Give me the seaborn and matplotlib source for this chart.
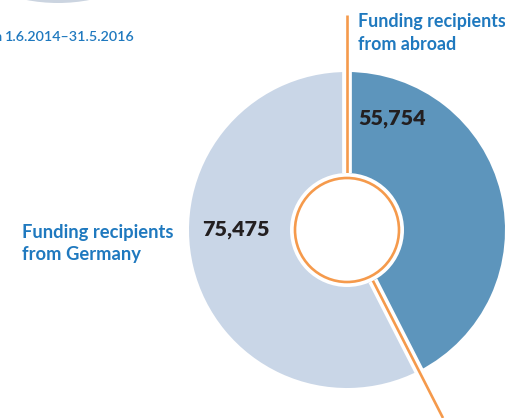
import numpy as np
import matplotlib
matplotlib.use("Agg")
import matplotlib.pyplot as plt
import seaborn as sns
from matplotlib.patches import Circle

# data
groups = ["Funding recipients\nfrom abroad", "Funding recipients\nfrom Germany"]
recipients = [55754, 75475]
value_labels = ["55,754", "75,475"]
period = "1.6.2014\u201331.5.2016"

DARK = "#5d95bc"
LIGHT = "#c9d6e7"
ORANGE = "#f59a4c"
BLUE = "#1f79bf"
INK = "#231f20"

sns.set_theme(style="white")
plt.rcParams["font.family"] = ["Lato", "DejaVu Sans"]

W, H = 506, 418
fig = plt.figure(figsize=(W / 100, H / 100), dpi=100)
ax = fig.add_axes([0, 0, 1, 1])


def py(y):
    # pixel row (from top) -> data y
    return H - y


cx, cy = 347, py(230)
R = 158
hole = 57

ax.pie(recipients, colors=[DARK, LIGHT], startangle=90, counterclock=False,
       center=(cx, cy), radius=R, wedgeprops=dict(linewidth=0))
ax.set_xlim(0, W)
ax.set_ylim(0, H)
ax.set_aspect("equal")
ax.axis("off")

# remnant of the neighbouring chart peeking in at the top left
ax.add_patch(Circle((58, py(-164)), 167, facecolor="#cbd4e0", edgecolor="none"))

# split lines follow the wedge boundaries
frac = recipients[0] / sum(recipients)
angles = [90.0, 90.0 - 360.0 * frac]
lengths = [py(15) - cy, cy / np.sin(np.radians(-angles[1]))]
for ang, L in zip(angles, lengths):
    a = np.radians(ang)
    ax.plot([cx + hole * np.cos(a), cx + L * np.cos(a)],
            [cy + hole * np.sin(a), cy + L * np.sin(a)],
            color="white", lw=7.0, solid_capstyle="butt", zorder=3)
    ax.plot([cx + 52 * np.cos(a), cx + L * np.cos(a)],
            [cy + 52 * np.sin(a), cy + L * np.sin(a)],
            color=ORANGE, lw=1.9, solid_capstyle="butt", zorder=4)

ax.add_patch(Circle((cx, cy), hole, facecolor="white", edgecolor="none", zorder=5))
ax.add_patch(Circle((cx, cy), 52, facecolor="white", edgecolor=ORANGE, lw=1.9, zorder=6))

# texts
ax.text(2.5, py(41), "from", ha="right", va="baseline", fontsize=10.3,
        fontweight="semibold", color=BLUE)
ax.text(5, py(41), period, ha="left", va="baseline", fontsize=10.3,
        fontweight="semibold", color=BLUE)

top_lines = groups[0].split("\n")
ax.text(358, py(27), top_lines[0], ha="left", va="baseline", fontsize=12.9,
        fontweight="bold", color=BLUE)
ax.text(358, py(50), top_lines[1], ha="left", va="baseline", fontsize=12.9,
        fontweight="bold", color=BLUE)

left_lines = groups[1].split("\n")
ax.text(22, py(238), left_lines[0], ha="left", va="baseline", fontsize=13.2,
        fontweight="bold", color=BLUE)
ax.text(22, py(260), left_lines[1], ha="left", va="baseline", fontsize=13.2,
        fontweight="bold", color=BLUE)

ax.text(358, py(124), value_labels[0], ha="left", va="baseline", fontsize=15.4,
        fontweight="heavy", color=INK)
ax.text(202, py(236), value_labels[1], ha="left", va="baseline", fontsize=15.4,
        fontweight="heavy", color=INK)

fig.savefig("out.png", dpi=100)
